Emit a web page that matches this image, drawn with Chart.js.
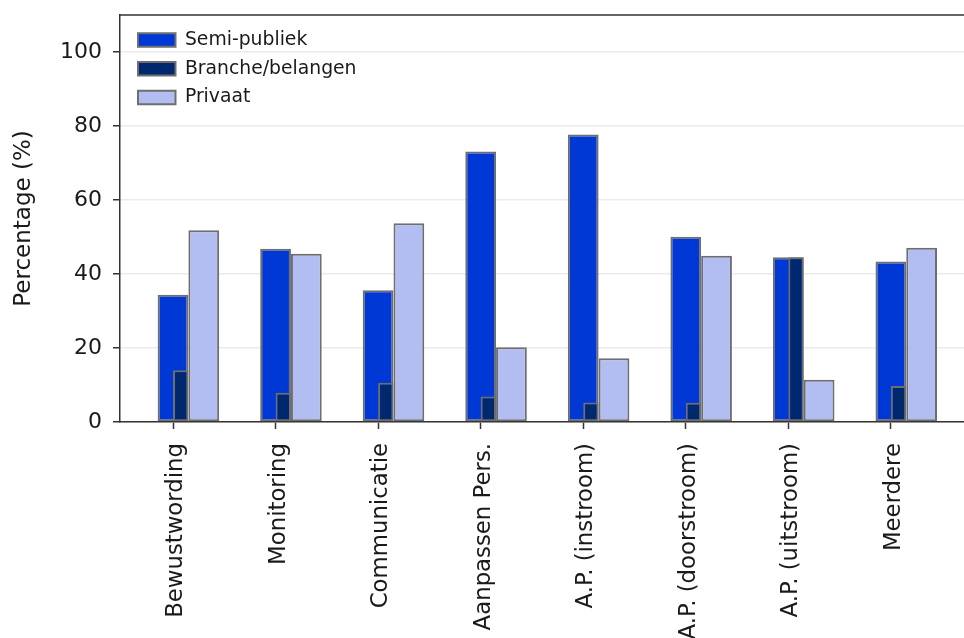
<!DOCTYPE html>
<html><head><meta charset="utf-8">
<script src="https://cdn.jsdelivr.net/npm/chart.js@4/dist/chart.umd.min.js"></script>
<style>html,body{margin:0;padding:0;background:#fff;overflow:hidden;width:964px;height:638px}canvas{display:block}</style>
</head><body>
<canvas id="c" width="990" height="638"></canvas>
<script>
const categories = ['Bewustwording','Monitoring','Communicatie','Aanpassen Pers.','A.P. (instroom)','A.P. (doorstroom)','A.P. (uitstroom)','Meerdere'];
const seriesLabels = ['Semi-publiek','Branche/belangen','Privaat'];
const semiPubliek = [34.4, 46.8, 35.6, 73.1, 77.7, 50.1, 44.5, 43.4];
const brancheBelangen = [14.0, 7.9, 10.6, 6.9, 5.3, 5.2, 44.5, 9.7];
const privaat = [51.8, 45.5, 53.7, 20.2, 17.2, 44.9, 11.4, 47.1];
const yTicks = [0, 20, 40, 60, 80, 100];

const FONT = 'DejaVu Sans';
const TEXT = '#1a1a1a';
const SPINE = '#333333';
const X_MIN = -0.517, X_MAX = 7.83;
const SHIFT_B = 0.075, SHIFT_P = 0.3;

Chart.defaults.font.family = FONT;
Chart.defaults.color = TEXT;

const catTicks = axis => { axis.ticks = categories.map((_, i) => ({ value: i })); };
const toPoints = arr => arr.map((v, i) => ({ x: i, y: v }));
const noPad = a => { a.paddingTop = 0; a.paddingBottom = 0; a.paddingLeft = 0; a.paddingRight = 0; };

const legendInside = {
  id: 'legendInside',
  beforeInit(chart) {
    const leg = chart.legend;
    if (leg && !leg._patched) {
      const fit = leg.fit;
      leg.fit = function () { fit.call(this); this.width = 0; };
      leg._patched = true;
    }
  },
  afterLayout(chart) {
    const leg = chart.legend, a = chart.chartArea;
    leg.left = a.left + 8; leg.top = a.top + 5.5;
    leg.width = 320; leg.height = 120;
    leg.right = leg.left + leg.width; leg.bottom = leg.top + leg.height;
  }
};
const frame = {
  id: 'frame',
  afterDraw(chart) {
    const { ctx, chartArea: a } = chart;
    ctx.save();
    ctx.strokeStyle = SPINE; ctx.lineWidth = 1.5;
    ctx.beginPath();
    ctx.moveTo(a.left, a.top);
    ctx.lineTo(a.right, a.top);
    ctx.lineTo(a.right, a.bottom);
    ctx.stroke();
    ctx.restore();
  }
};

const barCommon = { borderColor: '#6e6e6e', borderWidth: 2, borderSkipped: false, grouped: false, categoryPercentage: 1 };
const hiddenAxis = shift => ({ type: 'linear', display: false, offset: false, min: X_MIN - shift, max: X_MAX - shift, afterBuildTicks: catTicks, afterFit: noPad, grid: { offset: false } });

new Chart(document.getElementById('c'), {
  type: 'bar',
  data: {
    datasets: [
      Object.assign({ label: seriesLabels[0], data: toPoints(semiPubliek), xAxisID: 'x', backgroundColor: '#0038d6', order: 2, barPercentage: 0.3 }, barCommon),
      Object.assign({ label: seriesLabels[1], data: toPoints(brancheBelangen), xAxisID: 'xb', backgroundColor: '#00286e', order: 1, barPercentage: 0.15 }, barCommon),
      Object.assign({ label: seriesLabels[2], data: toPoints(privaat), xAxisID: 'xp', backgroundColor: '#b2bdf2', order: 3, barPercentage: 0.3 }, barCommon)
    ]
  },
  options: {
    responsive: false,
    devicePixelRatio: 1,
    animation: false,
    layout: { padding: { top: 15, right: 14, left: 0, bottom: 0 } },
    scales: {
      x: {
        type: 'linear', offset: false, min: X_MIN, max: X_MAX,
        afterBuildTicks: catTicks,
        afterFit: a => { a.height = 216; noPad(a); },
        ticks: { callback: v => categories[v], autoSkip: false, minRotation: 90, maxRotation: 90, padding: 14, labelOffset: 3, font: { size: 22.8 }, color: TEXT },
        grid: { offset: false, drawOnChartArea: false, drawTicks: true, tickLength: 7, tickColor: SPINE, tickWidth: 1.5 },
        border: { color: SPINE, width: 1.5 }
      },
      xb: hiddenAxis(SHIFT_B),
      xp: hiddenAxis(SHIFT_P),
      y: {
        min: 0, max: 110,
        afterBuildTicks: a => { a.ticks = yTicks.map(v => ({ value: v })); },
        afterFit: a => { a.width = 120; noPad(a); },
        ticks: { padding: 11, font: { size: 22 }, color: TEXT },
        grid: { color: '#ebebeb', lineWidth: 1.5, tickLength: 7, tickColor: SPINE, tickWidth: 1.5 },
        border: { color: SPINE, width: 1.5 },
        title: { display: true, text: 'Percentage (%)', font: { size: 23 }, color: TEXT, padding: { top: 10, bottom: 0 } }
      }
    },
    plugins: {
      tooltip: { enabled: false },
      legend: {
        position: 'left', align: 'start',
        labels: { font: { size: 18.8 }, color: TEXT, boxWidth: 37.5, boxHeight: 13.5, padding: 10, sort: (a, b) => a.datasetIndex - b.datasetIndex }
      }
    }
  },
  plugins: [legendInside, frame]
});
</script>
</body></html>
